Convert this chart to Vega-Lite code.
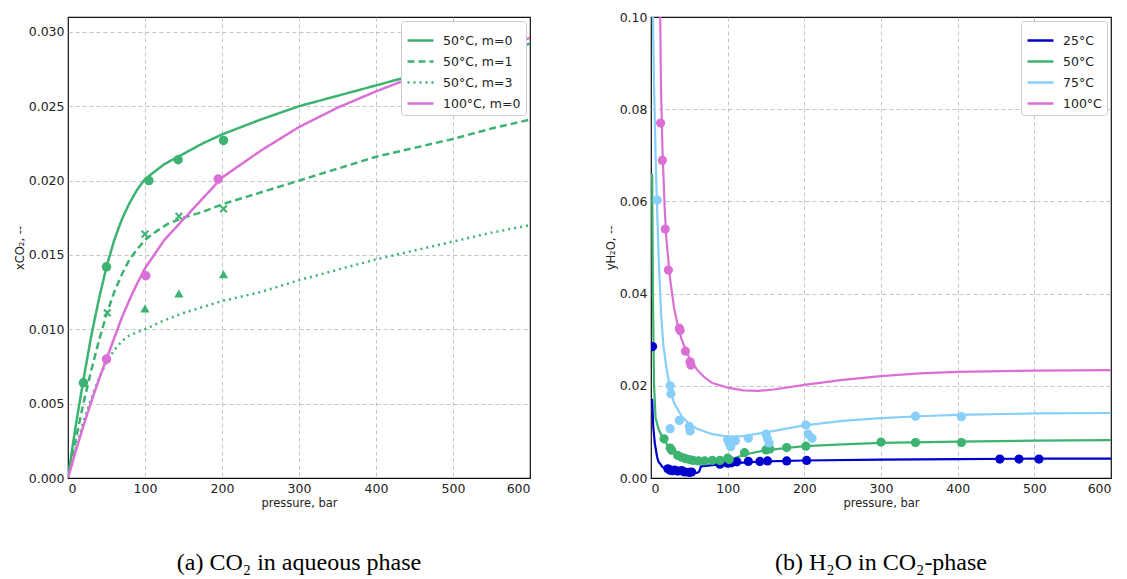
{
  "$schema": "https://vega.github.io/schema/vega-lite/v6.json",
  "background": "white",
  "padding": {"left": 13, "top": 10, "right": 5, "bottom": 2},
  "spacing": 73,
  "resolve": {"scale": {"color": "independent", "fill": "independent", "stroke": "independent", "strokeDash": "independent"}},
  "config": {
    "view": {"stroke": "#111111", "strokeWidth": 1.2},
    "axis": {"grid": true, "gridDash": [4, 3], "gridColor": "#b5b5b5", "gridWidth": 0.8, "gridOpacity": {"condition": {"test": "datum.value === 0 || datum.value === 600 || datum.value === 0.1", "value": 0}, "value": 1}, "domain": false, "ticks": false, "labelPadding": 4, "labelFont": "DejaVu Sans", "labelFontSize": 12.5, "labelColor": "#222222", "titleFont": "DejaVu Sans", "titleFontSize": 11.5, "titleFontWeight": "normal", "titleColor": "#222222", "titlePadding": 3},
    "legend": {"padding": 5, "strokeColor": "#cccccc", "fillColor": "white", "cornerRadius": 3, "symbolType": "stroke", "symbolStrokeWidth": 2.5, "symbolSize": 676, "labelFont": "DejaVu Sans", "labelFontSize": 12.5, "labelColor": "#222222", "rowPadding": -7, "labelOffset": 8},
    "title": {"font": "Liberation Serif", "fontSize": 24, "fontWeight": "normal", "color": "black", "orient": "bottom", "anchor": "middle", "offset": 42}
  },
  "datasets": {
    "lLines": [
      {"p": 0, "v": 0, "s": "50°C, m=0"}, {"p": 5, "v": 0.0018, "s": "50°C, m=0"}, {"p": 10, "v": 0.0035, "s": "50°C, m=0"}, {"p": 20, "v": 0.0066, "s": "50°C, m=0"}, {"p": 30, "v": 0.0095, "s": "50°C, m=0"}, {"p": 40, "v": 0.0120, "s": "50°C, m=0"}, {"p": 50, "v": 0.0142, "s": "50°C, m=0"}, {"p": 60, "v": 0.0160, "s": "50°C, m=0"}, {"p": 70, "v": 0.0174, "s": "50°C, m=0"}, {"p": 80, "v": 0.0185, "s": "50°C, m=0"}, {"p": 90, "v": 0.0194, "s": "50°C, m=0"}, {"p": 100, "v": 0.0201, "s": "50°C, m=0"}, {"p": 110, "v": 0.0205, "s": "50°C, m=0"}, {"p": 125, "v": 0.0211, "s": "50°C, m=0"}, {"p": 150, "v": 0.0218, "s": "50°C, m=0"}, {"p": 175, "v": 0.0225, "s": "50°C, m=0"}, {"p": 200, "v": 0.0231, "s": "50°C, m=0"}, {"p": 250, "v": 0.0241, "s": "50°C, m=0"}, {"p": 300, "v": 0.0250, "s": "50°C, m=0"}, {"p": 350, "v": 0.0257, "s": "50°C, m=0"}, {"p": 400, "v": 0.0264, "s": "50°C, m=0"}, {"p": 450, "v": 0.0271, "s": "50°C, m=0"}, {"p": 500, "v": 0.0278, "s": "50°C, m=0"}, {"p": 550, "v": 0.0285, "s": "50°C, m=0"}, {"p": 600, "v": 0.0292, "s": "50°C, m=0"},
      {"p": 0, "v": 0, "s": "50°C, m=1"}, {"p": 5, "v": 0.0013, "s": "50°C, m=1"}, {"p": 10, "v": 0.0026, "s": "50°C, m=1"}, {"p": 20, "v": 0.0050, "s": "50°C, m=1"}, {"p": 30, "v": 0.0072, "s": "50°C, m=1"}, {"p": 40, "v": 0.0092, "s": "50°C, m=1"}, {"p": 50, "v": 0.0110, "s": "50°C, m=1"}, {"p": 60, "v": 0.0125, "s": "50°C, m=1"}, {"p": 70, "v": 0.0137, "s": "50°C, m=1"}, {"p": 80, "v": 0.0147, "s": "50°C, m=1"}, {"p": 90, "v": 0.0154, "s": "50°C, m=1"}, {"p": 100, "v": 0.0160, "s": "50°C, m=1"}, {"p": 115, "v": 0.0166, "s": "50°C, m=1"}, {"p": 130, "v": 0.0171, "s": "50°C, m=1"}, {"p": 150, "v": 0.0175, "s": "50°C, m=1"}, {"p": 175, "v": 0.0179, "s": "50°C, m=1"}, {"p": 200, "v": 0.0184, "s": "50°C, m=1"}, {"p": 250, "v": 0.0192, "s": "50°C, m=1"}, {"p": 300, "v": 0.0200, "s": "50°C, m=1"}, {"p": 350, "v": 0.0208, "s": "50°C, m=1"}, {"p": 400, "v": 0.0216, "s": "50°C, m=1"}, {"p": 450, "v": 0.0222, "s": "50°C, m=1"}, {"p": 500, "v": 0.0228, "s": "50°C, m=1"}, {"p": 550, "v": 0.0235, "s": "50°C, m=1"}, {"p": 600, "v": 0.0241, "s": "50°C, m=1"},
      {"p": 0, "v": 0, "s": "50°C, m=3"}, {"p": 5, "v": 0.0010, "s": "50°C, m=3"}, {"p": 10, "v": 0.0020, "s": "50°C, m=3"}, {"p": 20, "v": 0.0038, "s": "50°C, m=3"}, {"p": 30, "v": 0.0053, "s": "50°C, m=3"}, {"p": 40, "v": 0.0067, "s": "50°C, m=3"}, {"p": 50, "v": 0.0078, "s": "50°C, m=3"}, {"p": 60, "v": 0.0086, "s": "50°C, m=3"}, {"p": 70, "v": 0.0092, "s": "50°C, m=3"}, {"p": 80, "v": 0.0096, "s": "50°C, m=3"}, {"p": 90, "v": 0.0098, "s": "50°C, m=3"}, {"p": 100, "v": 0.0100, "s": "50°C, m=3"}, {"p": 125, "v": 0.0106, "s": "50°C, m=3"}, {"p": 150, "v": 0.0111, "s": "50°C, m=3"}, {"p": 200, "v": 0.0119, "s": "50°C, m=3"}, {"p": 250, "v": 0.0125, "s": "50°C, m=3"}, {"p": 300, "v": 0.0133, "s": "50°C, m=3"}, {"p": 350, "v": 0.0140, "s": "50°C, m=3"}, {"p": 400, "v": 0.0147, "s": "50°C, m=3"}, {"p": 450, "v": 0.0153, "s": "50°C, m=3"}, {"p": 500, "v": 0.0159, "s": "50°C, m=3"}, {"p": 550, "v": 0.0165, "s": "50°C, m=3"}, {"p": 600, "v": 0.0170, "s": "50°C, m=3"},
      {"p": 0, "v": 0, "s": "100°C, m=0"}, {"p": 5, "v": 0.0009, "s": "100°C, m=0"}, {"p": 10, "v": 0.0018, "s": "100°C, m=0"}, {"p": 20, "v": 0.0035, "s": "100°C, m=0"}, {"p": 30, "v": 0.0051, "s": "100°C, m=0"}, {"p": 40, "v": 0.0066, "s": "100°C, m=0"}, {"p": 50, "v": 0.0080, "s": "100°C, m=0"}, {"p": 60, "v": 0.0094, "s": "100°C, m=0"}, {"p": 70, "v": 0.0108, "s": "100°C, m=0"}, {"p": 80, "v": 0.0120, "s": "100°C, m=0"}, {"p": 90, "v": 0.0131, "s": "100°C, m=0"}, {"p": 100, "v": 0.0141, "s": "100°C, m=0"}, {"p": 125, "v": 0.0160, "s": "100°C, m=0"}, {"p": 150, "v": 0.0174, "s": "100°C, m=0"}, {"p": 175, "v": 0.0188, "s": "100°C, m=0"}, {"p": 200, "v": 0.0202, "s": "100°C, m=0"}, {"p": 250, "v": 0.0220, "s": "100°C, m=0"}, {"p": 300, "v": 0.0236, "s": "100°C, m=0"}, {"p": 350, "v": 0.0249, "s": "100°C, m=0"}, {"p": 400, "v": 0.0260, "s": "100°C, m=0"}, {"p": 450, "v": 0.0270, "s": "100°C, m=0"}, {"p": 500, "v": 0.0279, "s": "100°C, m=0"}, {"p": 550, "v": 0.0288, "s": "100°C, m=0"}, {"p": 600, "v": 0.0296, "s": "100°C, m=0"}
    ],
    "lPts": [
      {"p": 20, "v": 0.0064, "s": "50°C, m=0"}, {"p": 50, "v": 0.0142, "s": "50°C, m=0"}, {"p": 105, "v": 0.0200, "s": "50°C, m=0"}, {"p": 143, "v": 0.0214, "s": "50°C, m=0"}, {"p": 202, "v": 0.0227, "s": "50°C, m=0"},
      {"p": 50, "v": 0.0080, "s": "100°C, m=0"}, {"p": 101, "v": 0.0136, "s": "100°C, m=0"}, {"p": 195, "v": 0.0201, "s": "100°C, m=0"},
      {"p": 51, "v": 0.0111, "s": "50°C, m=1"}, {"p": 100, "v": 0.0164, "s": "50°C, m=1"}, {"p": 144, "v": 0.0176, "s": "50°C, m=1"}, {"p": 202, "v": 0.0181, "s": "50°C, m=1"},
      {"p": 100, "v": 0.0114, "s": "50°C, m=3"}, {"p": 144, "v": 0.0124, "s": "50°C, m=3"}, {"p": 202, "v": 0.0137, "s": "50°C, m=3"}
    ],
    "rLines": [
      {"p": 1.5, "v": 0.0172, "t": "25°C"}, {"p": 3, "v": 0.011, "t": "25°C"}, {"p": 5, "v": 0.0075, "t": "25°C"}, {"p": 8, "v": 0.0045, "t": "25°C"}, {"p": 10, "v": 0.0035, "t": "25°C"}, {"p": 15, "v": 0.0024, "t": "25°C"}, {"p": 20, "v": 0.0018, "t": "25°C"}, {"p": 30, "v": 0.0014, "t": "25°C"}, {"p": 40, "v": 0.0012, "t": "25°C"}, {"p": 50, "v": 0.0011, "t": "25°C"}, {"p": 60, "v": 0.0011, "t": "25°C"}, {"p": 63, "v": 0.0014, "t": "25°C"}, {"p": 65, "v": 0.0025, "t": "25°C"}, {"p": 80, "v": 0.0028, "t": "25°C"}, {"p": 100, "v": 0.0031, "t": "25°C"}, {"p": 125, "v": 0.0034, "t": "25°C"}, {"p": 150, "v": 0.0036, "t": "25°C"}, {"p": 200, "v": 0.0038, "t": "25°C"}, {"p": 300, "v": 0.0040, "t": "25°C"}, {"p": 400, "v": 0.0041, "t": "25°C"}, {"p": 500, "v": 0.0042, "t": "25°C"}, {"p": 600, "v": 0.0042, "t": "25°C"},
      {"p": 1.5, "v": 0.066, "t": "50°C"}, {"p": 2.5, "v": 0.040, "t": "50°C"}, {"p": 4, "v": 0.020, "t": "50°C"}, {"p": 6, "v": 0.013, "t": "50°C"}, {"p": 10, "v": 0.0105, "t": "50°C"}, {"p": 15, "v": 0.0088, "t": "50°C"}, {"p": 20, "v": 0.0075, "t": "50°C"}, {"p": 25, "v": 0.0063, "t": "50°C"}, {"p": 30, "v": 0.0055, "t": "50°C"}, {"p": 40, "v": 0.0046, "t": "50°C"}, {"p": 50, "v": 0.0041, "t": "50°C"}, {"p": 60, "v": 0.0039, "t": "50°C"}, {"p": 80, "v": 0.0038, "t": "50°C"}, {"p": 100, "v": 0.0040, "t": "50°C"}, {"p": 110, "v": 0.0044, "t": "50°C"}, {"p": 125, "v": 0.0052, "t": "50°C"}, {"p": 150, "v": 0.0060, "t": "50°C"}, {"p": 175, "v": 0.0065, "t": "50°C"}, {"p": 200, "v": 0.0069, "t": "50°C"}, {"p": 250, "v": 0.0073, "t": "50°C"}, {"p": 300, "v": 0.0076, "t": "50°C"}, {"p": 400, "v": 0.0079, "t": "50°C"}, {"p": 500, "v": 0.0081, "t": "50°C"}, {"p": 600, "v": 0.0082, "t": "50°C"},
      {"p": 2.5, "v": 0.10, "t": "75°C"}, {"p": 4, "v": 0.085, "t": "75°C"}, {"p": 6, "v": 0.07, "t": "75°C"}, {"p": 8, "v": 0.058, "t": "75°C"}, {"p": 10, "v": 0.048, "t": "75°C"}, {"p": 13, "v": 0.036, "t": "75°C"}, {"p": 16, "v": 0.029, "t": "75°C"}, {"p": 20, "v": 0.024, "t": "75°C"}, {"p": 25, "v": 0.0193, "t": "75°C"}, {"p": 30, "v": 0.0163, "t": "75°C"}, {"p": 40, "v": 0.0134, "t": "75°C"}, {"p": 50, "v": 0.0117, "t": "75°C"}, {"p": 60, "v": 0.0107, "t": "75°C"}, {"p": 80, "v": 0.0095, "t": "75°C"}, {"p": 100, "v": 0.0090, "t": "75°C"}, {"p": 120, "v": 0.0091, "t": "75°C"}, {"p": 150, "v": 0.0099, "t": "75°C"}, {"p": 200, "v": 0.0114, "t": "75°C"}, {"p": 250, "v": 0.0124, "t": "75°C"}, {"p": 300, "v": 0.0130, "t": "75°C"}, {"p": 350, "v": 0.0134, "t": "75°C"}, {"p": 400, "v": 0.0137, "t": "75°C"}, {"p": 500, "v": 0.0140, "t": "75°C"}, {"p": 600, "v": 0.0141, "t": "75°C"},
      {"p": 12, "v": 0.10, "t": "100°C"}, {"p": 13, "v": 0.085, "t": "100°C"}, {"p": 15, "v": 0.071, "t": "100°C"}, {"p": 18, "v": 0.058, "t": "100°C"}, {"p": 20, "v": 0.052, "t": "100°C"}, {"p": 25, "v": 0.043, "t": "100°C"}, {"p": 30, "v": 0.037, "t": "100°C"}, {"p": 35, "v": 0.033, "t": "100°C"}, {"p": 40, "v": 0.030, "t": "100°C"}, {"p": 50, "v": 0.026, "t": "100°C"}, {"p": 60, "v": 0.0235, "t": "100°C"}, {"p": 70, "v": 0.0218, "t": "100°C"}, {"p": 80, "v": 0.0206, "t": "100°C"}, {"p": 100, "v": 0.0196, "t": "100°C"}, {"p": 120, "v": 0.0190, "t": "100°C"}, {"p": 140, "v": 0.0189, "t": "100°C"}, {"p": 160, "v": 0.0192, "t": "100°C"}, {"p": 200, "v": 0.0202, "t": "100°C"}, {"p": 250, "v": 0.0213, "t": "100°C"}, {"p": 300, "v": 0.0221, "t": "100°C"}, {"p": 350, "v": 0.0227, "t": "100°C"}, {"p": 400, "v": 0.0230, "t": "100°C"}, {"p": 500, "v": 0.0233, "t": "100°C"}, {"p": 600, "v": 0.0234, "t": "100°C"}
    ],
    "rPts": [
      {"p": 2, "v": 0.0285, "t": "25°C"}, {"p": 22, "v": 0.0020, "t": "25°C"}, {"p": 25, "v": 0.0017, "t": "25°C"}, {"p": 28, "v": 0.0016, "t": "25°C"}, {"p": 31, "v": 0.0017, "t": "25°C"}, {"p": 35, "v": 0.0015, "t": "25°C"}, {"p": 40, "v": 0.0016, "t": "25°C"}, {"p": 44, "v": 0.0013, "t": "25°C"}, {"p": 50, "v": 0.0012, "t": "25°C"}, {"p": 53, "v": 0.0013, "t": "25°C"}, {"p": 90, "v": 0.0030, "t": "25°C"}, {"p": 100, "v": 0.0032, "t": "25°C"}, {"p": 105, "v": 0.0033, "t": "25°C"}, {"p": 112, "v": 0.0035, "t": "25°C"}, {"p": 127, "v": 0.0036, "t": "25°C"}, {"p": 142, "v": 0.0036, "t": "25°C"}, {"p": 152, "v": 0.0037, "t": "25°C"}, {"p": 177, "v": 0.0037, "t": "25°C"}, {"p": 203, "v": 0.0038, "t": "25°C"}, {"p": 455, "v": 0.0041, "t": "25°C"}, {"p": 480, "v": 0.0041, "t": "25°C"}, {"p": 506, "v": 0.0041, "t": "25°C"},
      {"p": 17, "v": 0.0085, "t": "50°C"}, {"p": 25, "v": 0.0065, "t": "50°C"}, {"p": 27, "v": 0.0060, "t": "50°C"}, {"p": 35, "v": 0.0049, "t": "50°C"}, {"p": 40, "v": 0.0045, "t": "50°C"}, {"p": 45, "v": 0.0042, "t": "50°C"}, {"p": 50, "v": 0.0040, "t": "50°C"}, {"p": 55, "v": 0.0038, "t": "50°C"}, {"p": 62, "v": 0.0037, "t": "50°C"}, {"p": 70, "v": 0.0037, "t": "50°C"}, {"p": 80, "v": 0.0038, "t": "50°C"}, {"p": 90, "v": 0.0038, "t": "50°C"}, {"p": 100, "v": 0.0043, "t": "50°C"}, {"p": 102, "v": 0.0040, "t": "50°C"}, {"p": 122, "v": 0.0055, "t": "50°C"}, {"p": 150, "v": 0.0061, "t": "50°C"}, {"p": 155, "v": 0.0063, "t": "50°C"}, {"p": 177, "v": 0.0066, "t": "50°C"}, {"p": 202, "v": 0.0069, "t": "50°C"}, {"p": 300, "v": 0.0078, "t": "50°C"}, {"p": 345, "v": 0.0077, "t": "50°C"}, {"p": 405, "v": 0.0077, "t": "50°C"},
      {"p": 8, "v": 0.0603, "t": "75°C"}, {"p": 25, "v": 0.0200, "t": "75°C"}, {"p": 26, "v": 0.0183, "t": "75°C"}, {"p": 25, "v": 0.0107, "t": "75°C"}, {"p": 37, "v": 0.0125, "t": "75°C"}, {"p": 50, "v": 0.0112, "t": "75°C"}, {"p": 51, "v": 0.0102, "t": "75°C"}, {"p": 100, "v": 0.0083, "t": "75°C"}, {"p": 102, "v": 0.0075, "t": "75°C"}, {"p": 104, "v": 0.0068, "t": "75°C"}, {"p": 110, "v": 0.0081, "t": "75°C"}, {"p": 127, "v": 0.0086, "t": "75°C"}, {"p": 150, "v": 0.0095, "t": "75°C"}, {"p": 152, "v": 0.0085, "t": "75°C"}, {"p": 154, "v": 0.0076, "t": "75°C"}, {"p": 202, "v": 0.0115, "t": "75°C"}, {"p": 205, "v": 0.0095, "t": "75°C"}, {"p": 210, "v": 0.0086, "t": "75°C"}, {"p": 345, "v": 0.0134, "t": "75°C"}, {"p": 405, "v": 0.0133, "t": "75°C"},
      {"p": 12.5, "v": 0.0770, "t": "100°C"}, {"p": 14.8, "v": 0.0689, "t": "100°C"}, {"p": 18.5, "v": 0.054, "t": "100°C"}, {"p": 22.7, "v": 0.0451, "t": "100°C"}, {"p": 37, "v": 0.0325, "t": "100°C"}, {"p": 38, "v": 0.0320, "t": "100°C"}, {"p": 44.9, "v": 0.0275, "t": "100°C"}, {"p": 51, "v": 0.0252, "t": "100°C"}, {"p": 52, "v": 0.0245, "t": "100°C"}
    ]
  },
  "hconcat": [
    {
      "width": 462,
      "height": 461,
      "title": {"text": "(a)  CO₂ in aqueous phase"},
      "encoding": {
        "x": {"field": "p", "type": "quantitative", "scale": {"domain": [0, 600], "nice": false}, "axis": {"title": "pressure, bar", "values": [0, 100, 200, 300, 400, 500, 600]}},
        "y": {"field": "v", "type": "quantitative", "scale": {"domain": [0, 0.031], "nice": false, "zero": false}, "axis": {"title": "xCO₂, --", "values": [0, 0.005, 0.01, 0.015, 0.02, 0.025, 0.03], "format": ".3f"}}
      },
      "layer": [
        {
          "data": {"name": "lLines"},
          "mark": {"type": "line", "strokeWidth": 2.5, "clip": true},
          "encoding": {
            "color": {"field": "s", "type": "nominal", "scale": {"domain": ["50°C, m=0", "50°C, m=1", "50°C, m=3", "100°C, m=0"], "range": ["#3cb371", "#3cb371", "#3cb371", "#da70d6"]}, "legend": {"title": null, "orient": "top-right", "offset": 4}},
            "strokeDash": {"field": "s", "type": "nominal", "scale": {"domain": ["50°C, m=0", "50°C, m=1", "50°C, m=3", "100°C, m=0"], "range": [[1, 0], [7, 4], [2, 4], [1, 0]]}, "legend": {"title": null, "orient": "top-right", "offset": 4}}
          }
        },
        {
          "data": {"name": "lPts"},
          "transform": [{"filter": "datum.s === '50°C, m=0' || datum.s === '100°C, m=0'"}],
          "mark": {"type": "point", "shape": "circle", "filled": true, "size": 90, "opacity": 1},
          "encoding": {
            "fill": {"field": "s", "type": "nominal", "scale": {"domain": ["50°C, m=0", "50°C, m=1", "50°C, m=3", "100°C, m=0"], "range": ["#3cb371", "#3cb371", "#3cb371", "#da70d6"]}, "legend": null}
          }
        },
        {
          "data": {"name": "lPts"},
          "transform": [{"filter": "datum.s === '50°C, m=1'"}],
          "mark": {"type": "point", "shape": "M-1,-1L1,1M-1,1L1,-1", "filled": false, "size": 45, "strokeWidth": 2, "opacity": 1},
          "encoding": {
            "stroke": {"field": "s", "type": "nominal", "scale": {"domain": ["50°C, m=0", "50°C, m=1", "50°C, m=3", "100°C, m=0"], "range": ["#3cb371", "#3cb371", "#3cb371", "#da70d6"]}, "legend": null}
          }
        },
        {
          "data": {"name": "lPts"},
          "transform": [{"filter": "datum.s === '50°C, m=3'"}],
          "mark": {"type": "point", "shape": "triangle-up", "filled": true, "size": 85, "opacity": 1},
          "encoding": {
            "fill": {"field": "s", "type": "nominal", "scale": {"domain": ["50°C, m=0", "50°C, m=1", "50°C, m=3", "100°C, m=0"], "range": ["#3cb371", "#3cb371", "#3cb371", "#da70d6"]}, "legend": null}
          }
        }
      ]
    },
    {
      "width": 460,
      "height": 461,
      "title": {"text": "(b)  H₂O in CO₂-phase"},
      "encoding": {
        "x": {"field": "p", "type": "quantitative", "scale": {"domain": [0, 600], "nice": false}, "axis": {"title": "pressure, bar", "values": [0, 100, 200, 300, 400, 500, 600]}},
        "y": {"field": "v", "type": "quantitative", "scale": {"domain": [0, 0.1], "nice": false, "zero": false}, "axis": {"title": "yH₂O, --", "values": [0, 0.02, 0.04, 0.06, 0.08, 0.1], "format": ".2f"}}
      },
      "layer": [
        {
          "data": {"name": "rLines"},
          "mark": {"type": "line", "strokeWidth": 2.2, "clip": true},
          "encoding": {
            "color": {"field": "t", "type": "nominal", "scale": {"domain": ["25°C", "50°C", "75°C", "100°C"], "range": ["#0000cd", "#3cb371", "#87cefa", "#da70d6"]}, "legend": {"title": null, "orient": "top-right", "offset": 4}}
          }
        },
        {
          "data": {"name": "rPts"},
          "mark": {"type": "point", "shape": "circle", "filled": true, "size": 85, "opacity": 1, "clip": true},
          "encoding": {
            "fill": {"field": "t", "type": "nominal", "scale": {"domain": ["25°C", "50°C", "75°C", "100°C"], "range": ["#0000cd", "#3cb371", "#87cefa", "#da70d6"]}, "legend": null}
          }
        }
      ]
    }
  ]
}
